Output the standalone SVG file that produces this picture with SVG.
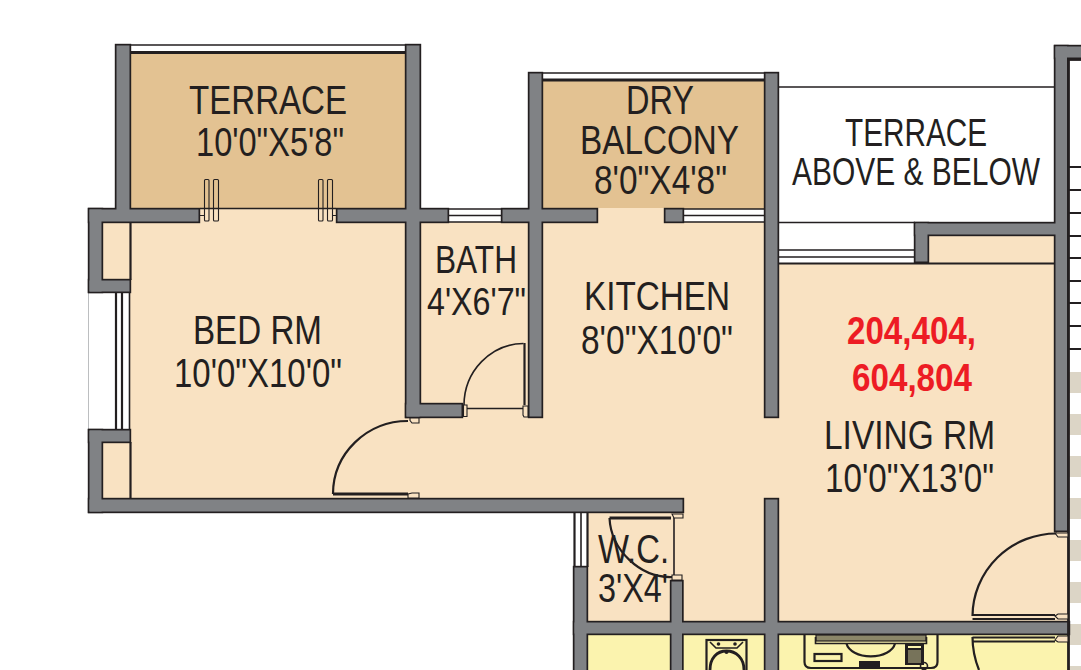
<svg xmlns="http://www.w3.org/2000/svg" width="1081" height="670" viewBox="0 0 1081 670">
<style>
.f{fill:#f9e2c2}.t{fill:#e3c292}.y{fill:#fbf3ae}.s{fill:#dcd5c6}
.l{fill:none;stroke:#231f20;stroke-width:1.6}
.k{fill:none;stroke:#231f20;stroke-width:2.8}
.n{fill:none;stroke:#231f20;stroke-width:1.1}
.d{fill:#f9e2c2;stroke:#231f20;stroke-width:1.1}
.o{fill:none;stroke:#231f20;stroke-width:2.2}
.b{fill:#231f20}
text{font-family:"Liberation Sans",Arial,sans-serif;fill:#231f20;font-size:41px}
.m{font-size:38px}
.r{fill:#ed1c24;font-weight:bold;font-size:39px}
</style>
<defs>
<g id="w">
<rect x="116.500" y="45.500" width="13" height="175"/>
<rect x="406.500" y="45.500" width="13" height="371"/>
<rect x="89.500" y="209.500" width="109" height="12"/>
<rect x="337.500" y="209.500" width="110" height="12"/>
<rect x="89.500" y="209.500" width="12" height="82"/>
<rect x="89.500" y="280.500" width="40" height="11"/>
<rect x="89.500" y="430.500" width="40" height="11"/>
<rect x="89.500" y="430.500" width="12" height="81"/>
<rect x="89.500" y="499.500" width="593" height="12"/>
<rect x="406.500" y="404.500" width="55" height="12"/>
<rect x="529.500" y="73.500" width="12" height="343"/>
<rect x="502.500" y="209.500" width="94" height="12"/>
<rect x="665.500" y="209.500" width="17" height="12"/>
<rect x="765.500" y="73.500" width="12" height="343"/>
<rect x="765.500" y="499.500" width="12" height="172"/>
<rect x="574.500" y="622.500" width="494" height="11"/>
<rect x="574.500" y="567.500" width="12" height="104"/>
<rect x="671.500" y="581.500" width="10.500" height="90"/>
<rect x="1055.500" y="46.500" width="11.500" height="484"/>
<rect x="1055.500" y="46.500" width="27" height="11"/>
<rect x="915.500" y="223.500" width="151.500" height="11"/>
<rect x="915.500" y="223.500" width="12" height="38"/>
</g>
</defs>
<rect width="1081" height="670" fill="#fff"/>
<g id="stripes">
<rect class="s" x="1069" y="372" width="12" height="21"/>
<rect class="s" x="1069" y="414" width="12" height="21"/>
<rect class="s" x="1069" y="456" width="12" height="21"/>
<rect class="s" x="1069" y="498" width="12" height="21"/>
<rect class="s" x="1069" y="540" width="12" height="21"/>
<rect class="s" x="1069" y="582" width="12" height="21"/>
<rect class="s" x="1069" y="624" width="12" height="21"/>
<rect class="s" x="1069" y="666" width="12" height="4"/>
</g>
<g id="floors">
<rect class="t" x="131" y="52" width="275" height="157"/>
<rect class="t" x="543" y="80" width="222" height="129"/>
<rect class="f" x="130" y="209" width="276" height="290"/>
<rect class="f" x="103" y="222" width="28" height="60"/>
<rect class="f" x="103" y="440" width="28" height="60"/>
<rect class="f" x="405" y="222" width="124" height="277"/>
<rect class="f" x="528" y="222" width="237" height="277"/>
<rect class="f" x="598" y="208" width="67" height="15"/>
<rect class="f" x="764" y="418" width="15" height="82"/>
<rect class="f" x="779" y="263" width="276" height="359"/>
<rect class="f" x="929" y="235" width="126" height="29"/>
<rect class="f" x="1054" y="530" width="15" height="92"/>
<rect class="f" x="684" y="498" width="81" height="124"/>
<rect class="f" x="587" y="512" width="98" height="110"/>
<rect class="y" x="587" y="634" width="84" height="36"/>
<rect class="y" x="683" y="634" width="82" height="36"/>
<rect class="y" x="779" y="634" width="290" height="36"/>
</g>
<g id="railings">
<path class="l" d="M131 45H405M543 73H765"/>
<path class="k" d="M131 52.500H405M543 80H765"/>
<path class="l" d="M779 87H1055M779 222.500H915M779 250H915M779 257H915"/>
<path class="o" d="M779 263.500H1055"/>
<path class="l" d="M448 209H501M448 215.500H501M448 222H501M684 209H765M684 215.500H765M684 222H765"/>
<path class="l" d="M200 208.500H336"/>
<path d="M88.500 293V429" fill="none" stroke="#bcbec0" stroke-width="1"/>
<path class="o" d="M116 293V429M122 293V429"/>
<path class="l" d="M129.500 293V429"/>
<path class="o" d="M130.500 222V280M130.500 442V499"/>
<path class="o" d="M574.500 513V567"/>
<path class="l" d="M581 513V567"/>
<path class="o" d="M587.500 513V567"/>
</g>
<g id="walls">
<use href="#w" fill="#231f20" stroke="#231f20" stroke-width="3.400"/>
<use href="#w" fill="#808285"/>
</g>
<g id="right-edge">
<path class="k" d="M1068.500 58V670"/>
<path class="k" d="M1068 59.500H1081"/>
<path class="o" d="M1069 167H1081M1069 190H1081M1069 213H1081M1069 236H1081M1069 258H1081M1069 281H1081M1069 303H1081M1069 326H1081M1069 349H1081"/>
</g>
<g id="doors">
<rect class="d" x="204.500" y="179.500" width="4.500" height="41.500" rx="1" fill-opacity="0"/>
<rect class="d" x="213.500" y="179.500" width="5" height="41.500" rx="1" fill-opacity="0"/>
<rect class="d" x="318.500" y="179.500" width="4.500" height="41.500" rx="1" fill-opacity="0"/>
<rect class="d" x="327.500" y="179.500" width="5" height="41.500" rx="1" fill-opacity="0"/>
<path class="n" d="M200 215.500H204M332.500 215.500H337"/>
<path class="o" d="M408 421A75 73 0 0 0 333 494"/>
<path class="k" d="M333 494H408"/>
<path class="d" d="M410 420.500L412 423H419V418H410ZM408 494L412 493H419V498H408Z"/>
<path class="l" d="M523.500 343.500A60 62 0 0 0 464 405"/>
<path class="o" d="M524.500 343V405"/>
<path class="l" d="M466 408.500H524"/>
<path class="d" d="M463.500 405H467V416.500H463.500ZM523 406H528V417H524L523 415Z"/>
<path class="k" d="M609.500 518H671"/>
<path class="o" d="M609.500 518C611 550 640 578 672 577"/>
<path class="l" d="M674 517V577"/>
<path class="d" d="M672 514H683V518H674ZM672 575H682V580H672Z"/>
<path class="o" d="M1057 533.500A84 83 0 0 0 972.500 616"/>
<path class="o" d="M972.500 615H1055M972.500 619H1055"/>
<path class="o" d="M972.500 637.500H1055M972.500 641.500H1055"/>
<path class="o" d="M972.500 637C972.500 649 975 660 979 670"/>
<path class="d" d="M1055 533H1068V537H1058ZM1055 616L1058 614H1068V619H1058ZM1055 640L1058 636H1068V642H1058Z"/>
</g>
<g id="fixtures">
<rect class="o" x="706.500" y="640" width="40" height="32"/>
<path class="l" d="M710 642L716 648H737L743 642"/>
<path class="k" d="M710 670C710 658 717 651 726.500 651S744 658 744 670"/>
<circle class="b" cx="718.500" cy="644" r="1.800"/>
<circle class="b" cx="735" cy="644" r="1.800"/>
<circle class="b" cx="726.500" cy="652" r="2"/>
<path class="o" d="M804.500 635V662Q804.500 668 811 668H931Q937.500 668 937.500 662V635"/>
<rect x="816" y="635" width="110" height="6" fill="#8b8668" stroke="#231f20" stroke-width="1.200"/>
<path class="l" d="M815.500 637V643.500H926.500V637"/>
<path class="o" d="M846.500 643.500A24.500 15 0 0 0 895 643.500"/>
<rect class="o" x="814.500" y="654" width="27" height="7"/>
<rect class="b" x="859" y="661" width="21" height="8"/>
<rect class="b" x="905" y="644" width="19" height="21"/>
<rect x="908" y="650" width="13" height="13" fill="#77735a"/>
<rect x="908" y="646" width="13" height="2" fill="#fbf3ae"/>
<circle class="l" cx="924" cy="666" r="3.500"/>
</g>
<g id="labels">
<text x="189" y="114" textLength="158" lengthAdjust="spacingAndGlyphs">TERRACE</text>
<text x="196" y="156" textLength="148" lengthAdjust="spacingAndGlyphs">10'0"X5'8"</text>
<text x="626" y="114" textLength="68" lengthAdjust="spacingAndGlyphs">DRY</text>
<text x="580" y="154" textLength="159" lengthAdjust="spacingAndGlyphs">BALCONY</text>
<text x="594" y="194" textLength="133" lengthAdjust="spacingAndGlyphs">8'0"X4'8"</text>
<text class="m" x="845" y="146" textLength="142" lengthAdjust="spacingAndGlyphs">TERRACE</text>
<text class="m" x="792" y="185" textLength="248" lengthAdjust="spacingAndGlyphs">ABOVE &amp; BELOW</text>
<text class="m" x="435" y="273" textLength="82" lengthAdjust="spacingAndGlyphs">BATH</text>
<text class="m" x="427" y="315" textLength="99" lengthAdjust="spacingAndGlyphs">4'X6'7"</text>
<text x="584" y="310" textLength="146" lengthAdjust="spacingAndGlyphs">KITCHEN</text>
<text x="581" y="354" textLength="152" lengthAdjust="spacingAndGlyphs">8'0"X10'0"</text>
<text x="193" y="344" textLength="129" lengthAdjust="spacingAndGlyphs">BED RM</text>
<text x="174" y="387" textLength="168" lengthAdjust="spacingAndGlyphs">10'0"X10'0"</text>
<text class="r" x="847" y="344" textLength="129" lengthAdjust="spacingAndGlyphs">204,404,</text>
<text class="r" x="852" y="391" textLength="120" lengthAdjust="spacingAndGlyphs">604,804</text>
<text x="824" y="449" textLength="171" lengthAdjust="spacingAndGlyphs">LIVING RM</text>
<text x="825" y="492" textLength="169" lengthAdjust="spacingAndGlyphs">10'0"X13'0"</text>
<text x="598" y="563" textLength="71" lengthAdjust="spacingAndGlyphs">W.C.</text>
<text x="598" y="602" textLength="70" lengthAdjust="spacingAndGlyphs">3'X4'</text>
</g>
</svg>
